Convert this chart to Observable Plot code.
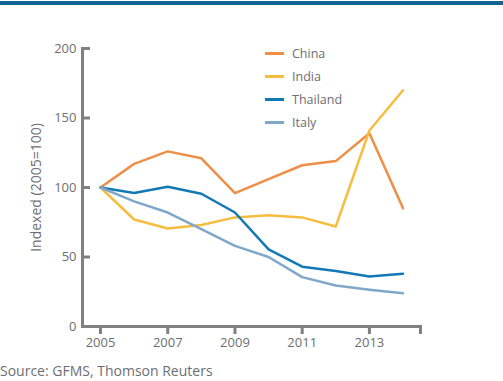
<!DOCTYPE html>
<html><head><meta charset="utf-8">
<script src="https://cdn.jsdelivr.net/npm/d3@7"></script>
<script src="https://cdn.jsdelivr.net/npm/@observablehq/plot@0.6"></script>
<style>
body{margin:0;background:#fff;font-family:"Open Sans",sans-serif;}
#wrap{position:relative;width:503px;height:381px;overflow:hidden;}
#bar{position:absolute;left:0;top:1px;width:503px;height:4px;background:#0f6690;}
#legend{position:absolute;left:265px;top:42px;font-size:12.5px;color:#6d6e71;}
#legend div{height:23px;display:flex;align-items:center;}
#legend span.sw{display:inline-block;width:19px;height:2.5px;margin-right:8px;}
#source{position:absolute;left:0;top:361px;font-size:14px;color:#6d6e71;}
</style></head><body>
<div id="wrap"><div id="bar"></div><div id="chart"></div><div id="legend"></div><div id="source">Source: GFMS, Thomson Reuters</div></div>
<script>
const years = [2005,2006,2007,2008,2009,2010,2011,2012,2013,2014];
const china    = [100,117,126,121,96,106,116,119,139,85];
const india    = [100,77,70.5,73,78.5,80,78.5,72,141,170];
const thailand = [100,96,100.5,95.5,82,55.5,43,40,36,38];
const italy    = [100,90,82,70,58,50,35.5,29.5,26.5,24];
const seriesNames = ["China","India","Thailand","Italy"];
const seriesColors = ["#ef8f47","#f6bd3f","#1279b4","#7fa7ca"];
const xTicks = [2005,2007,2009,2011,2013];
const yTicks = [0,50,100,150,200];
const yLabel = "Indexed (2005=100)";

const vals = [china, india, thailand, italy];
const rows = [];
seriesNames.forEach((s,i)=>years.forEach((y,j)=>rows.push({series:s, year:y, value:vals[i][j]})));

const gray = "#808080";
const textGray = "#6d6e71";
const plot = Plot.plot({
  width: 503, height: 381,
  marginLeft: 82, marginRight: 83, marginTop: 48, marginBottom: 55,
  style: {fontFamily: "Open Sans, sans-serif", fontSize: "13px", color: textGray, background: "transparent"},
  x: {domain: [2004.464, 2014.52]},
  y: {domain: [0, 200]},
  color: {domain: seriesNames, range: seriesColors},
  marks: [
    Plot.line(rows, {x: "year", y: "value", z: "series", stroke: "series", strokeWidth: 2.5}),
    Plot.frame({anchor: "left", stroke: gray, strokeWidth: 3}),
    Plot.frame({anchor: "bottom", stroke: gray, strokeWidth: 3}),
    Plot.axisY({ticks: yTicks, tickSize: 8, dx: 8, text: null, stroke: gray, strokeWidth: 3, label: null}),
    Plot.axisY({ticks: yTicks, tickSize: 0, tickPadding: 6, fill: textGray, fontSize: 13, label: null}),
    Plot.axisY({ticks: [], tickSize: 0, fill: textGray, fontSize: 14, label: yLabel, labelAnchor: "center", labelArrow: "none", labelOffset: 51}),
    Plot.axisX({ticks: [...xTicks, 2014.52], tickSize: 8, text: null, stroke: gray, strokeWidth: 3, label: null}),
    Plot.axisX({ticks: xTicks, tickSize: 0, tickPadding: 11, tickFormat: d => String(d), fill: textGray, fontSize: 13, label: null})
  ]
});
document.getElementById("chart").appendChild(plot);
const lg = document.getElementById("legend");
seriesNames.forEach((s,i)=>{
  const d = document.createElement("div");
  d.innerHTML = `<span class="sw" style="background:${seriesColors[i]}"></span>${s}`;
  lg.appendChild(d);
});
</script>
</body></html>
